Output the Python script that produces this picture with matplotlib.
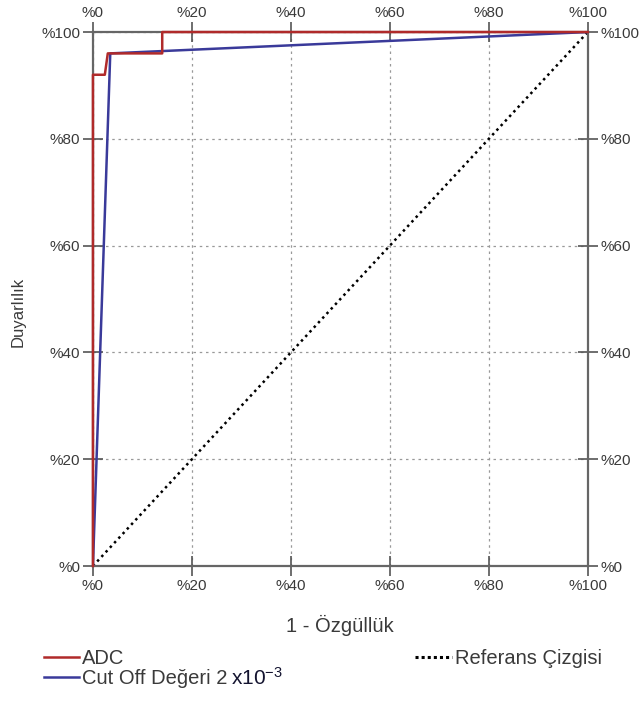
import matplotlib.pyplot as plt
from matplotlib.lines import Line2D

plt.rcParams['font.family'] = ['Liberation Sans', 'DejaVu Sans']

# ROC points (1 - specificity, sensitivity)
adc_x = [0, 0, 0.024, 0.03, 0.14, 0.14, 1.0]
adc_y = [0, 0.92, 0.92, 0.96, 0.96, 1.0, 1.0]
cut_x = [0, 0.035, 1.0]
cut_y = [0, 0.96, 1.0]
ref_x = [0, 1]
ref_y = [0, 1]
ticks = [0, 0.2, 0.4, 0.6, 0.8, 1.0]
tick_labels = ['%0', '%20', '%40', '%60', '%80', '%100']

RED = '#b02a2a'
BLUE = '#3a3a9a'
TXT = '#3a3a3a'

fig = plt.figure(figsize=(6.41, 7.04), dpi=100)
ax = fig.add_axes([0.145, 0.196, 0.772, 0.7585])

ax.plot(ref_x, ref_y, color='black', linestyle=(0, (1, 1.5)), linewidth=1.8, zorder=2)
ax.plot(cut_x, cut_y, color=BLUE, linewidth=1.8, zorder=3)
ax.plot(adc_x, adc_y, color=RED, linewidth=1.8, zorder=4, clip_on=False)

ax.set_xlim(0, 1)
ax.set_ylim(0, 1)
ax.set_xticks(ticks)
ax.set_yticks(ticks)
ax.set_xticklabels(tick_labels)
ax.set_yticklabels(tick_labels)
ax.grid(True, color='#999999', linestyle=(0, (2, 3)), linewidth=0.9)
ax.tick_params(direction='inout', length=14, width=1.2, color='#555555',
               labelsize=11, labelcolor=TXT,
               top=True, right=True, labeltop=True, labelright=True, pad=2)
for s in ax.spines.values():
    s.set_color('#666666')
    s.set_linewidth(1.6)

ax.set_xlabel('1 - Özgüllük', fontsize=14.5, color=TXT)
ax.xaxis.set_label_coords(0.5, -0.1105)
ax.xaxis.label.set_va('center')
ax.set_ylabel('Duyarlılık', fontsize=12, color=TXT)
ax.yaxis.set_label_coords(-0.152, 0.476)
ax.yaxis.label.set_va('center')

h_adc = Line2D([], [], color=RED, linewidth=1.8)
h_cut = Line2D([], [], color=BLUE, linewidth=1.8)
h_ref = Line2D([], [], color='black', linestyle=(0, (1, 1)), linewidth=2.2)

leg1 = fig.legend([h_adc, h_cut], ['ADC', 'Cut Off Değeri 2'],
                  loc='upper left', bbox_to_anchor=(0.056, 0.089), frameon=False,
                  fontsize=14.5, handlelength=1.75, handletextpad=0.15, labelspacing=0.05,
                  borderaxespad=0, labelcolor=TXT)
fig.legend([h_ref], ['Referans Çizgisi'], loc='upper left',
           bbox_to_anchor=(0.635, 0.089), frameon=False, fontsize=14.5,
           handlelength=1.85, handletextpad=0.15, borderaxespad=0,
           labelcolor=TXT)

# exponent part of the second label, in a larger darker font
fig.canvas.draw()
cut_txt = leg1.get_texts()[1]
bb = cut_txt.get_window_extent()
fig.text((bb.x1 + 3) / fig.bbox.width, (bb.y0 + 4) / fig.bbox.height,
         '$\\mathregular{x10^{-3}}$', fontsize=15, color='#141430', ha='left', va='baseline')

fig.savefig('out.png', dpi=100)
